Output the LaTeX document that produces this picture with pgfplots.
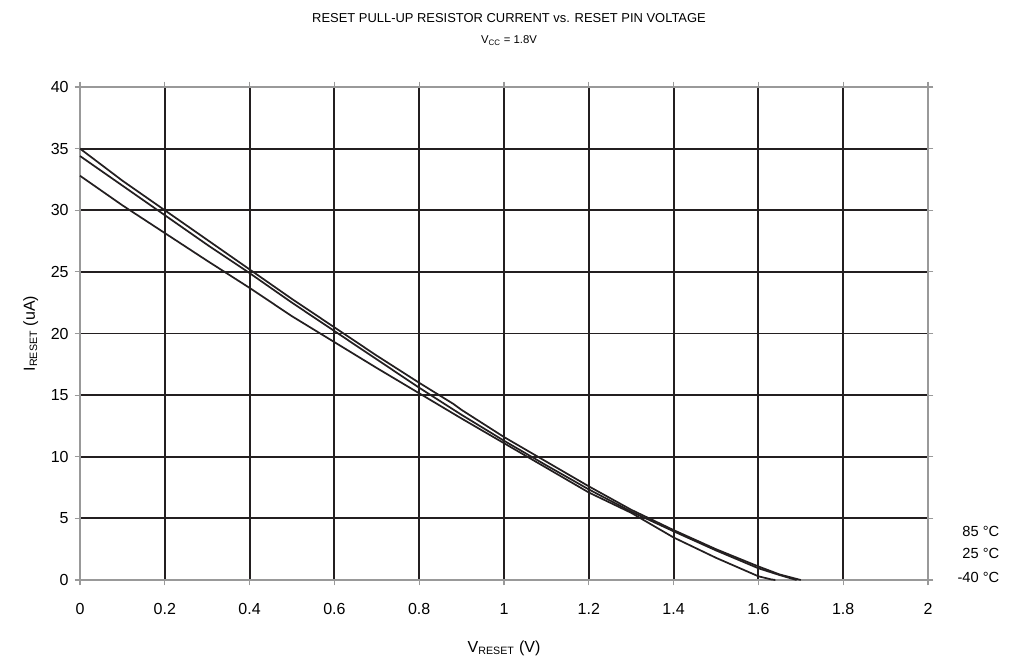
\documentclass[border=0pt]{standalone}
\usepackage{pgfplots}
\pgfplotsset{compat=1.18}
\usepackage{fontspec}
\setmainfont{Liberation Sans}
\definecolor{ink}{HTML}{231F20}
\begin{document}
\begin{tikzpicture}[x=1pt,y=1pt]
\path[use as bounding box] (0,0) rectangle (764.25,492);
\begin{axis}[
  at={(60pt,57pt)}, anchor=south west,
  scale only axis, width=636pt, height=369.75pt,
  xmin=0, xmax=2, ymin=0, ymax=40,
  xtick={0,0.2,...,2.01}, ytick={0,5,...,40},
  xticklabels={0,0.2,0.4,0.6,0.8,1,1.2,1.4,1.6,1.8,2},
  grid=major,
  major grid style={ink, line width=1.4pt},
  axis line style={gray!80, line width=1pt},
  tick align=outside, major tick length=4pt,
  tick style={gray!80, line width=0.8pt},
  ticklabel style={font=\fontsize{12}{14}\selectfont},
  /pgf/number format/assume math mode=true,
  xticklabel style={yshift=-10pt},
  yticklabel style={xshift=-1pt},
  xlabel={V\textsubscript{RESET} (V)},
  ylabel={I\textsubscript{RESET} (uA)},
  label style={font=\fontsize{12}{14}\selectfont},
  xlabel style={at={(axis description cs:0.5,0)}, anchor=center, yshift=-51pt},
  ylabel style={at={(axis description cs:0,0.5)}, anchor=center, yshift=37pt},
  clip=false,
]
\addplot[ink, line width=1.3pt] coordinates {
(0,35.0) (0.1,32.4) (0.2,30.0) (0.3,27.6) (0.4,25.2) (0.5,22.8) (0.6,20.5)
(0.7,18.2) (0.8,16.0) (0.88,14.3) (0.9,13.8) (1.0,11.6) (1.1,9.6) (1.2,7.6)
(1.3,5.7) (1.4,4.05) (1.5,2.5) (1.6,1.1) (1.65,0.45) (1.70,0)};
\addplot[ink, line width=1.3pt] coordinates {
(0,34.4) (0.1,32.0) (0.2,29.6) (0.3,27.2) (0.4,24.9) (0.5,22.5) (0.6,20.2)
(0.7,17.9) (0.8,15.6) (0.9,13.4) (1.0,11.3) (1.1,9.3) (1.2,7.35)
(1.3,5.55) (1.4,3.95) (1.5,2.4) (1.6,0.95) (1.65,0.4) (1.69,0)};
\addplot[ink, line width=1.3pt] coordinates {
(0,32.8) (0.1,30.4) (0.2,28.15) (0.3,25.9) (0.4,23.7) (0.5,21.4) (0.6,19.3)
(0.7,17.2) (0.8,15.15) (0.9,13.1) (1.0,11.1) (1.1,9.1) (1.2,7.1)
(1.3,5.45) (1.4,3.45) (1.5,1.8) (1.6,0.3) (1.63,0.05) (1.64,0)};
\end{axis}
\node[font=\fontsize{9.7}{11}\selectfont] at (381.75,478.5) {RESET PULL-UP RESISTOR CURRENT vs. RESET PIN VOLTAGE};
\node[font=\fontsize{8.5}{10}\selectfont] at (381.75,461.5) {V\textsubscript{CC} = 1.8V};
\node[font=\fontsize{11}{13}\selectfont, anchor=east] at (753,93.75) {85 °C};
\node[font=\fontsize{11}{13}\selectfont, anchor=east] at (753,77.25) {25 °C};
\node[font=\fontsize{11}{13}\selectfont, anchor=east] at (753,59.25) {-40 °C};
\end{tikzpicture}
\end{document}
